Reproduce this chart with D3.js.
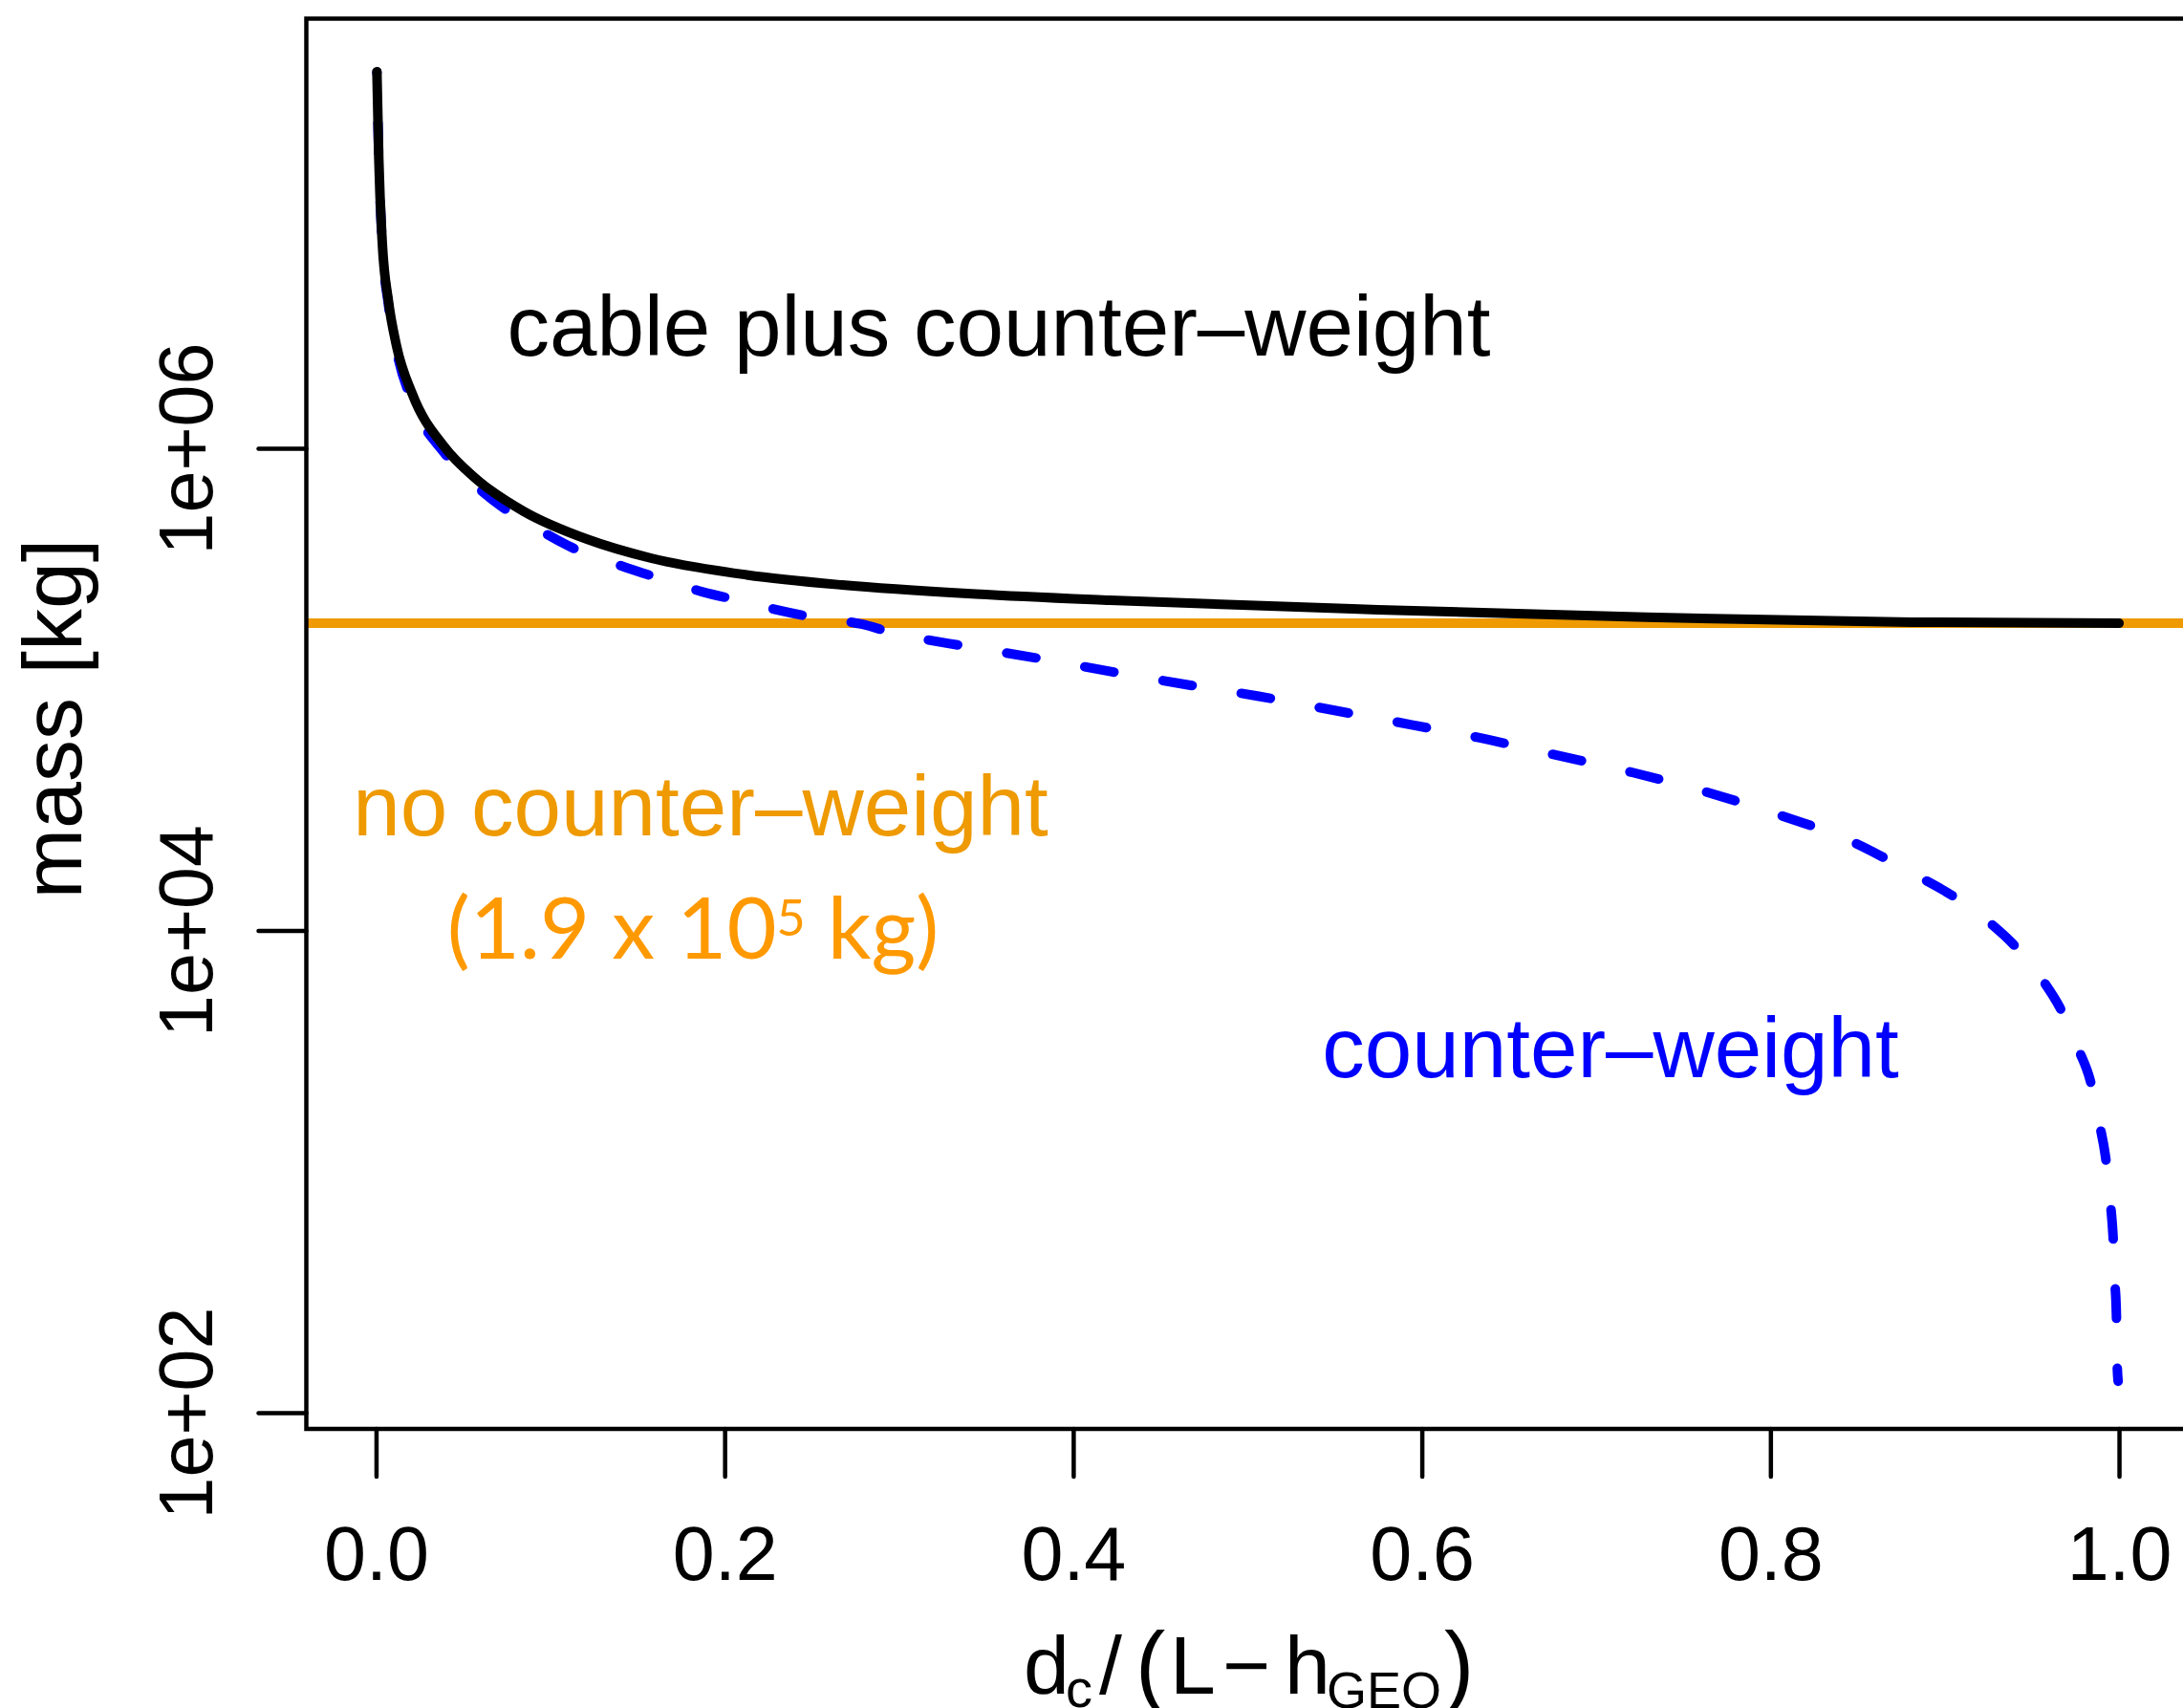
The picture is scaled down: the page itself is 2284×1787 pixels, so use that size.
<!DOCTYPE html>
<html><head><meta charset="utf-8">
<script src="https://cdn.jsdelivr.net/npm/d3@7"></script>
<style>body{margin:0;background:#fff;overflow:hidden}</style>
</head><body>
<svg id="chart" width="2284" height="1787" xmlns="http://www.w3.org/2000/svg"></svg>
<script>
// ---- data ----
const xTicks = [0, 0.2, 0.4, 0.6, 0.8, 1.0];
const xTickLabels = ["0.0", "0.2", "0.4", "0.6", "0.8", "1.0"];
const yTicks = [1e2, 1e4, 1e6];
const yTickLabels = ["1e+02", "1e+04", "1e+06"];

// cable plus counter-weight (black, solid)
const totalX = [0.0005, 0.0016, 0.0035, 0.0071, 0.0117, 0.0208, 0.0391, 0.0574, 0.0848, 0.1213, 0.1578, 0.2126, 0.2674, 0.344, 0.4212, 0.5748, 0.7287, 0.8811, 1.0];
const totalMass = [3.65e7, 1.57e7, 7.28e6, 4.08e6, 2.67e6, 1.68e6, 1.016e6, 7.47e5, 5.47e5, 4.19e5, 3.50e5, 2.985e5, 2.71e5, 2.485e5, 2.34e5, 2.14e5, 1.99e5, 1.90e5, 1.88e5];

// counter-weight (blue, dashed)
const cwX = [0.0005, 0.0016, 0.0035, 0.0071, 0.0117, 0.0208, 0.0391, 0.0519, 0.0711, 0.0875, 0.1103, 0.1441, 0.1688, 0.1870, 0.2117, 0.2308, 0.2528, 0.2784, 0.2962, 0.3404, 0.3788, 0.4231, 0.4673, 0.5057, 0.5499, 0.5941, 0.6325, 0.6768, 0.7210, 0.7594, 0.8036, 0.8459, 0.8637, 0.8866, 0.9040, 0.9259, 0.9395, 0.9560, 0.9660, 0.9770, 0.9834, 0.9889, 0.9922, 0.9952, 0.9966, 0.9977, 0.9985, 0.9989, 0.9995];
const cwMass = [3.63e7, 1.55e7, 7.1e6, 3.95e6, 2.55e6, 1.555e6, 9.59e5, 7.61e5, 5.80e5, 4.88e5, 3.94e5, 3.19e5, 2.80e5, 2.54e5, 2.31e5, 2.13e5, 1.98e5, 1.865e5, 1.72e5, 1.50e5, 1.35e5, 1.18e5, 1.04e5, 9.38e4, 8.18e4, 7.13e4, 6.31e4, 5.34e4, 4.52e4, 3.82e4, 3.04e4, 2.35e4, 2.03e4, 1.65e4, 1.40e4, 1.075e4, 8.74e3, 6.25e3, 4.80e3, 3.18e3, 2.40e3, 1.56e3, 1.16e3, 725, 537, 343, 254, 162, 135];

// no counter-weight (orange, horizontal)
const noCwMass = 1.88e5;

// ---- layout ----
const FONT = "'Liberation Sans', Arial, Helvetica, sans-serif";
const svg = d3.select("#chart");
const plot = {left: 320.5, top: 19.5, right: 2290, bottom: 1495};

const x = d3.scaleLinear().domain([-0.04, 1.04]).range([plot.left, plot.right]);
const y = d3.scaleLog().domain([Math.pow(10, 1.9326), Math.pow(10, 7.782)]).range([plot.bottom, plot.top]);

svg.append("defs").append("clipPath").attr("id", "clip")
  .append("rect").attr("x", plot.left).attr("y", plot.top)
  .attr("width", plot.right - plot.left).attr("height", plot.bottom - plot.top);

const g = svg.append("g").attr("clip-path", "url(#clip)");

// orange horizontal line
g.append("line")
  .attr("x1", plot.left).attr("x2", plot.right)
  .attr("y1", y(noCwMass)).attr("y2", y(noCwMass))
  .attr("stroke", "#EE9A00").attr("stroke-width", 10);

const line = d3.line().x(d => x(d[0])).y(d => y(d[1])).curve(d3.curveMonotoneX);

// blue dashed counter-weight
g.append("path")
  .attr("d", line(cwX.map((v, i) => [v, cwMass[i]])))
  .attr("fill", "none").attr("stroke", "#0000FF").attr("stroke-width", 10)
  .attr("stroke-linecap", "round").attr("stroke-linejoin", "round")
  .attr("stroke-dasharray", "31,52").attr("stroke-dashoffset", 30);

// black total
g.append("path")
  .attr("d", line(totalX.map((v, i) => [v, totalMass[i]])))
  .attr("fill", "none").attr("stroke", "#000").attr("stroke-width", 10)
  .attr("stroke-linecap", "round").attr("stroke-linejoin", "round");

// box
svg.append("rect")
  .attr("x", plot.left).attr("y", plot.top)
  .attr("width", plot.right - plot.left).attr("height", plot.bottom - plot.top)
  .attr("fill", "none").attr("stroke", "#000").attr("stroke-width", 4.5);

// x axis
const xAxis = svg.append("g").attr("transform", `translate(0,${plot.bottom})`)
  .call(d3.axisBottom(x).tickValues(xTicks).tickFormat((d, i) => xTickLabels[i]).tickSize(50));
xAxis.select(".domain").remove();
xAxis.selectAll(".tick line").attr("stroke", "#000").attr("stroke-width", 4.5).attr("stroke-linecap", "round");
xAxis.selectAll(".tick text").attr("y", 158).attr("dy", 0)
  .attr("font-family", FONT).attr("font-size", 79).attr("fill", "#000");

// y axis
const yAxis = svg.append("g").attr("transform", `translate(${plot.left},0)`)
  .call(d3.axisLeft(y).tickValues(yTicks).tickFormat((d, i) => yTickLabels[i]).tickSize(50));
yAxis.select(".domain").remove();
yAxis.selectAll(".tick line").attr("stroke", "#000").attr("stroke-width", 4.5).attr("stroke-linecap", "round");
yAxis.selectAll(".tick text")
  .attr("x", 0).attr("y", 0).attr("dy", 0)
  .attr("transform", "translate(-99,0) rotate(-90)")
  .attr("text-anchor", "middle")
  .attr("font-family", FONT).attr("font-size", 79).attr("fill", "#000");

// y axis title
svg.append("text").attr("transform", "translate(85,752) rotate(-90)")
  .attr("text-anchor", "middle").attr("font-family", FONT).attr("font-size", 88)
  .text("mass [kg]");

// x axis title: d_c/(L - h_GEO)
const xl = svg.append("g").attr("font-family", FONT).attr("fill", "#000");
xl.append("text").attr("x", 1071).attr("y", 1772).attr("font-size", 86).text("d");
xl.append("text").attr("x", 1115).attr("y", 1786).attr("font-size", 56).text("c");
xl.append("text").attr("x", 1150).attr("y", 1772).attr("font-size", 86).text("/");
xl.append("text").attr("x", 1188).attr("y", 1774).attr("font-size", 94).text("(");
xl.append("text").attr("x", 1224).attr("y", 1772).attr("font-size", 86).text("L");
xl.append("text").attr("x", 1304).attr("y", 1772).attr("text-anchor", "middle").attr("font-size", 86).text("\u2212");
xl.append("text").attr("x", 1344).attr("y", 1772).attr("font-size", 86).text("h");
xl.append("text").attr("x", 1388).attr("y", 1787).attr("font-size", 54).text("GEO");
xl.append("text").attr("x", 1511).attr("y", 1774).attr("font-size", 94).text(")");

// annotations
svg.append("text").attr("x", 1045).attr("y", 372).attr("text-anchor", "middle")
  .attr("font-family", FONT).attr("font-size", 89).attr("fill", "#000")
  .text("cable plus counter\u2013weight");
svg.append("text").attr("x", 733).attr("y", 874).attr("text-anchor", "middle")
  .attr("font-family", FONT).attr("font-size", 89).attr("fill", "#EE9A00")
  .text("no counter\u2013weight");
const t2 = svg.append("text").attr("x", 725).attr("y", 1003).attr("text-anchor", "middle")
  .attr("font-family", "Lato, 'Open Sans', sans-serif").attr("font-size", 90).attr("fill", "#FF9900");
t2.append("tspan").text("(1.9 x 10");
t2.append("tspan").attr("dy", -24).attr("font-size", 52).text("5");
t2.append("tspan").attr("dy", 24).text(" kg)");
svg.append("text").attr("x", 1685).attr("y", 1127).attr("text-anchor", "middle")
  .attr("font-family", FONT).attr("font-size", 89).attr("fill", "#0000FF")
  .text("counter\u2013weight");
</script>
</body></html>
